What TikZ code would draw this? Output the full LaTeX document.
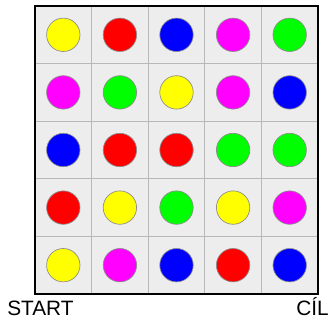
\documentclass[tikz,border=0pt]{standalone}
\usepackage{fontspec}
\setmainfont{Liberation Sans}
\definecolor{dotyellow}{RGB}{255,255,0}
\definecolor{dotred}{RGB}{255,0,0}
\definecolor{dotblue}{RGB}{0,0,255}
\definecolor{dotmagenta}{RGB}{255,0,255}
\definecolor{dotgreen}{RGB}{0,255,0}
\tikzset{
    dot/.style={draw=black!45, line width=0.5pt},
    gridline/.style={draw=black!28, line width=0.8pt},
    label/.style={font=\fontsize{15.6}{18}\selectfont}
}
\begin{document}
\begin{tikzpicture}[x=0.75pt, y=-0.75pt]
    \useasboundingbox (0,0) rectangle (330,320);
    \fill[black!7] (35,6) rectangle (318,294);
    \foreach \i in {1,...,4} {
        \draw[gridline] (35+\i*56.6,6) -- (35+\i*56.6,294);
        \draw[gridline] (35,6+\i*57.6) -- (318,6+\i*57.6);
    }
    \foreach \row [count=\r] in {
        {yellow,red,blue,magenta,green},
        {magenta,green,yellow,magenta,blue},
        {blue,red,red,green,green},
        {red,yellow,green,yellow,magenta},
        {yellow,magenta,blue,red,blue}} {
        \foreach \col [count=\c] in \row {
            \filldraw[dot, fill=dot\col] (35+\c*56.6-28.3, 6+\r*57.6-28.8) circle (16.7);
        }
    }
    \draw[line width=1.5pt] (35,6) rectangle (318,294);
    \node[label, anchor=base west, inner sep=0pt] (start) at (7,316) {START};
    \node[label, anchor=base east, inner sep=0pt] (cil) at (329,316) {CÍL};
\end{tikzpicture}
\end{document}
